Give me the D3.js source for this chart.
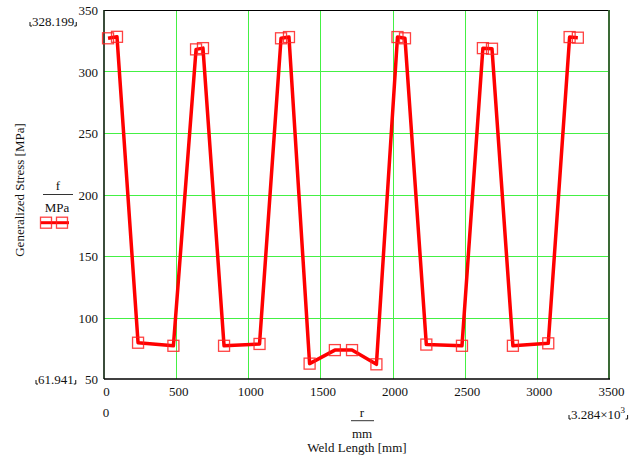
<!DOCTYPE html>
<html><head><meta charset="utf-8">
<script src="https://cdn.jsdelivr.net/npm/d3@7"></script>
<style>body{margin:0;background:#fff}svg{display:block}</style>
</head><body>
<script>
const weldLength = [28, 90, 236, 481, 638, 686, 832, 1078, 1227, 1282, 1425, 1600, 1719, 1888, 2034, 2086, 2234, 2481, 2626, 2689, 2834, 3079, 3227, 3284];
const stress = [327, 328.199, 79.5, 77, 318, 319, 77, 78.5, 327, 328, 62.5, 73.5, 73.5, 61.941, 328, 327, 78, 77, 319, 318.5, 77, 79, 328, 327.5];
const xTicks = [0, 500, 1000, 1500, 2000, 2500, 3000, 3500];
const yTicks = [50, 100, 150, 200, 250, 300, 350];
const yMarkers = ["328.199", "61.941"];
const xMarkers = ["0", "3.284×10"];

const W = 637, H = 457;
const L = 104, R = 609, T = 10, B = 379;
const FONT = "Liberation Serif";
const svg = d3.select("body").append("svg").attr("width", W).attr("height", H);
const x = d3.scaleLinear().domain([0, 3500]).range([L, R]);
const y = d3.scaleLinear().domain([50, 350]).range([B, T]);

// grid
const grid = svg.append("g").attr("stroke", "#44f044").attr("stroke-width", 1);
grid.selectAll(".gx").data(xTicks.slice(1, -1)).join("line")
  .attr("x1", d => Math.round(x(d)) + 0.5).attr("x2", d => Math.round(x(d)) + 0.5).attr("y1", T).attr("y2", B);
grid.selectAll(".gy").data(yTicks.slice(1, -1)).join("line")
  .attr("y1", d => Math.round(y(d)) + 0.5).attr("y2", d => Math.round(y(d)) + 0.5).attr("x1", L).attr("x2", R);

// frame
svg.append("line").attr("x1", L).attr("x2", R).attr("y1", T + 0.5).attr("y2", T + 0.5).attr("stroke", "#000").attr("stroke-width", 1.2);
svg.append("line").attr("x1", R).attr("x2", R).attr("y1", T).attr("y2", B).attr("stroke", "#3a6a35").attr("stroke-width", 2);
svg.append("line").attr("x1", L).attr("x2", L).attr("y1", T).attr("y2", B).attr("stroke", "#0a200a").attr("stroke-width", 1.6);
svg.append("line").attr("x1", L).attr("x2", R + 1).attr("y1", B).attr("y2", B).attr("stroke", "#000").attr("stroke-width", 1.6);

// axes labels via d3 axes
const yAxis = svg.append("g").attr("transform", `translate(${L - 6},0)`)
  .call(d3.axisLeft(y).tickValues(yTicks).tickSize(0).tickPadding(0));
yAxis.attr("font-family", FONT).attr("font-size", 13);
yAxis.select(".domain").remove();
yAxis.selectAll("text").attr("fill", "#111").attr("dy", "0.35em");

const xAxis = svg.append("g").attr("transform", `translate(2,${B + 5})`)
  .call(d3.axisBottom(x).tickValues(xTicks).tickSize(0).tickPadding(0).tickFormat(d3.format("d")));
xAxis.attr("font-family", FONT).attr("font-size", 13);
xAxis.select(".domain").remove();
xAxis.selectAll("text").attr("fill", "#111").attr("dy", "0.9em");

// data line
const line = d3.line().x((d, i) => x(weldLength[i])).y(d => y(d));
svg.append("path").datum(stress).attr("d", line).attr("fill", "none")
  .attr("stroke", "#ff0000").attr("stroke-width", 3.5).attr("stroke-linejoin", "round");
const s = 11;
svg.selectAll(".pt").data(stress).join("rect")
  .attr("x", (d, i) => x(weldLength[i]) - s / 2).attr("y", d => y(d) - s / 2)
  .attr("width", s).attr("height", s).attr("fill", "none")
  .attr("stroke", "#ff2020").attr("stroke-opacity", 0.85).attr("stroke-width", 1.3);

// bracket helper
function bracketed(g, tx, ty, str, extra) {
  const t = g.append("text").attr("x", tx).attr("y", ty).attr("font-size", 13).attr("fill", "#111").text(str);
  if (extra) t.append("tspan").attr("dy", -6).attr("font-size", 9).text(extra);
  const bb = t.node().getBBox();
  const x0 = bb.x - 2, x1 = bb.x + bb.width + 2;
  g.append("path").attr("d", `M${x0},${ty - 4}V${ty}H${x0 + 2}`).attr("stroke", "#111").attr("fill", "none").attr("stroke-width", 1);
  g.append("path").attr("d", `M${x1},${ty - 4}V${ty}H${x1 - 2}`).attr("stroke", "#111").attr("fill", "none").attr("stroke-width", 1);
}
const lab = svg.append("g").attr("font-family", FONT).attr("fill", "#111");
bracketed(lab, 32, 26, yMarkers[0]);
bracketed(lab, 38, 384, yMarkers[1]);
lab.append("text").attr("x", 106).attr("y", 417).attr("text-anchor", "middle").attr("font-size", 13).text(xMarkers[0]);
bracketed(lab, 571, 419, xMarkers[1], "3");

// y axis title
lab.append("text").attr("transform", "translate(24,190) rotate(-90)").attr("text-anchor", "middle").attr("font-size", 13).text("Generalized Stress [MPa]");
lab.append("text").attr("x", 58).attr("y", 190).attr("text-anchor", "middle").attr("font-size", 13).text("f");
lab.append("line").attr("x1", 43).attr("x2", 73).attr("y1", 194.5).attr("y2", 194.5).attr("stroke", "#333").attr("stroke-width", 1);
lab.append("text").attr("x", 57).attr("y", 212).attr("text-anchor", "middle").attr("font-size", 13).text("MPa");
// legend
lab.append("line").attr("x1", 41).attr("x2", 69).attr("y1", 222.7).attr("y2", 222.7).attr("stroke", "#ff0000").attr("stroke-width", 3);
[46, 62].forEach(cx => lab.append("rect").attr("x", cx - 5.5).attr("y", 217.2).attr("width", 11).attr("height", 11)
  .attr("fill", "none").attr("stroke", "#ff2020").attr("stroke-width", 1.3).attr("stroke-opacity", 0.85));

// x axis title
lab.append("text").attr("x", 362).attr("y", 417).attr("text-anchor", "middle").attr("font-size", 13).text("r");
lab.append("line").attr("x1", 351).attr("x2", 374).attr("y1", 420.7).attr("y2", 420.7).attr("stroke", "#333").attr("stroke-width", 1);
lab.append("text").attr("x", 362).attr("y", 438).attr("text-anchor", "middle").attr("font-size", 13).text("mm");
lab.append("text").attr("x", 357).attr("y", 452).attr("text-anchor", "middle").attr("font-size", 13).text("Weld Length [mm]");
</script>
</body></html>
